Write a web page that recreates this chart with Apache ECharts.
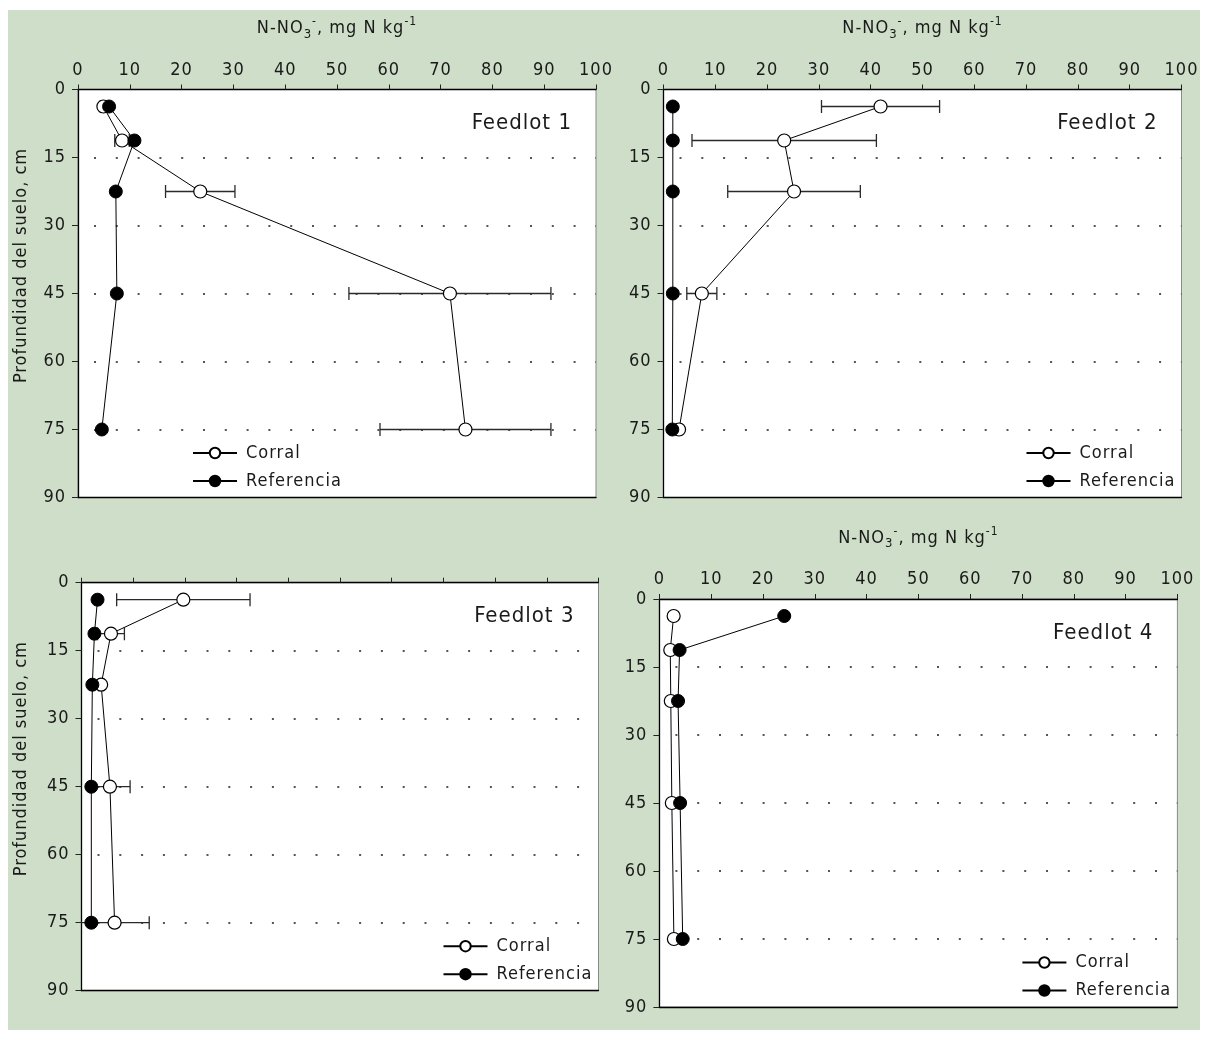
<!DOCTYPE html>
<html>
<head>
<meta charset="utf-8">
<script src="https://cdn.jsdelivr.net/npm/echarts@6/dist/echarts.min.js"></script>
<style>
  html, body { margin: 0; padding: 0; background: #ffffff; }
  #wrap { position: relative; width: 1208px; height: 1041px; overflow: hidden; }
  #panel { position: absolute; left: 8px; top: 10px; width: 1192px; height: 1020px; background: #cfdec8; }
  #chart { position: absolute; left: 0; top: 0; width: 1208px; height: 1041px; }
</style>
</head>
<body>
<div id="wrap"><div id="panel"></div><div id="chart"></div></div>
<script>
// Soil depth (cm) at the centre of each sampled layer
const depths = [3.75, 11.25, 22.5, 45, 75];
// Tick values of both axes
const depthTicks = [0, 15, 30, 45, 60, 75, 90];
const concTicks = [0, 10, 20, 30, 40, 50, 60, 70, 80, 90, 100];
const seriesNames = ['Corral', 'Referencia'];
const panelNames = ['Feedlot 1', 'Feedlot 2', 'Feedlot 3', 'Feedlot 4'];

// N-NO3- (mg N kg-1) per depth, corral mean with its error, and reference site
const corral1 = [4.9, 8.5, 23.6, 71.8, 74.8];
const corralErr1 = [0.6, 1.4, 6.7, 19.5, 16.5];
const ref1 = [6.0, 10.9, 7.3, 7.5, 4.6];

const corral2 = [41.9, 23.3, 25.2, 7.4, 3.0];
const corralErr2 = [11.4, 17.8, 12.8, 2.9, 0.5];
const ref2 = [1.8, 1.8, 1.8, 1.8, 1.7];

const corral3 = [19.7, 5.7, 3.8, 5.5, 6.4];
const corralErr3 = [12.9, 2.6, 0.5, 3.9, 6.7];
const ref3 = [3.1, 2.5, 2.1, 1.9, 1.9];

const corral4 = [2.75, 2.1, 2.2, 2.4, 2.8];
const corralErr4 = [0, 0, 0, 0, 0];
const ref4 = [24.1, 3.9, 3.6, 4.0, 4.5];

const corralData = [corral1, corral2, corral3, corral4];
const corralErrData = [corralErr1, corralErr2, corralErr3, corralErr4];
const refData = [ref1, ref2, ref3, ref4];

// Plot boxes (pixels) and which decorations each panel carries
const boxes = [
  { left: 78,    top: 89.5,  width: 518, height: 408, topLabels: true,  depthTitle: true,  legendSide: 'left'  },
  { left: 663.5, top: 89.5,  width: 518, height: 408, topLabels: true,  depthTitle: false, legendSide: 'right' },
  { left: 81.5,  top: 582.7, width: 517, height: 408, topLabels: false, depthTitle: true,  legendSide: 'right' },
  { left: 659.4, top: 599,   width: 518, height: 408, topLabels: true,  depthTitle: false, legendSide: 'right' }
];

const FONT = "'Liberation Sans Narrow','Arial Narrow','DejaVu Sans Condensed',sans-serif";
const INK = '#1a1a1a';

// Tracked (letter-spaced) typography for all canvas text
(function () {
  const proto = CanvasRenderingContext2D.prototype;
  if (!('letterSpacing' in proto)) return;
  const fill = proto.fillText, measure = proto.measureText;
  proto.fillText = function () { this.letterSpacing = '1px'; return fill.apply(this, arguments); };
  proto.measureText = function () { this.letterSpacing = '1px'; return measure.apply(this, arguments); };
})();

const chart = echarts.init(document.getElementById('chart'), null, { renderer: 'canvas' });

const grids = [], xAxes = [], yAxes = [], series = [], legends = [], graphics = [];

boxes.forEach((b, i) => {
  grids.push({
    left: b.left, top: b.top, width: b.width, height: b.height,
    show: true, backgroundColor: '#ffffff', borderColor: '#8a8a8a', borderWidth: 1
  });
  // top concentration axis
  xAxes.push({
    type: 'value', gridIndex: i, position: 'top',
    min: concTicks[0], max: concTicks[concTicks.length - 1], interval: concTicks[1] - concTicks[0],
    axisLine: { show: true, onZero: false, lineStyle: { color: '#000', width: 1.3 } },
    axisTick: { show: true, inside: false, length: 5, lineStyle: { color: '#222', width: 1 } },
    axisLabel: { show: b.topLabels, margin: 10, fontSize: 18, fontFamily: FONT, color: INK },
    splitLine: { show: false },
    name: b.topLabels ? 'N-NO{sub|3}{sup|-}, mg N kg{sup|-1}' : '',
    nameLocation: 'middle', nameGap: 48,
    nameTextStyle: {
      fontSize: 18, fontFamily: FONT, color: INK,
      rich: {
        sub: { fontSize: 13, fontFamily: FONT, color: INK, verticalAlign: 'bottom', padding: [12, 0, 0, 0] },
        sup: { fontSize: 12, fontFamily: FONT, color: INK, verticalAlign: 'top', padding: [0, 0, 10, 0] }
      }
    }
  });
  // bottom frame line of the plot box
  xAxes.push({
    type: 'value', gridIndex: i, position: 'bottom',
    min: concTicks[0], max: concTicks[concTicks.length - 1],
    axisLine: { show: true, onZero: false, lineStyle: { color: '#000', width: 1.3 } },
    axisTick: { show: false }, axisLabel: { show: false }, splitLine: { show: false }
  });
  yAxes.push({
    type: 'value', gridIndex: i, inverse: true,
    min: depthTicks[0], max: depthTicks[depthTicks.length - 1], interval: depthTicks[1] - depthTicks[0],
    axisLine: { show: true, onZero: false, lineStyle: { color: '#000', width: 1.3 } },
    axisTick: { show: true, inside: false, length: 6, lineStyle: { color: '#222', width: 1 } },
    axisLabel: { margin: 12, fontSize: 18, fontFamily: FONT, color: INK },
    splitLine: {
      show: true, showMinLine: false, showMaxLine: false,
      lineStyle: { color: '#555', width: 2, type: [2, 19.8], dashOffset: 5.8, cap: 'butt' }
    }
  });

  const xTop = 2 * i;
  const cData = corralData[i], eData = corralErrData[i], rData = refData[i];

  // horizontal error bars on the corral means, clipped to the plot box
  const errRows = [];
  depths.forEach((d, k) => { if (eData[k] > 0) errRows.push([cData[k] - eData[k], cData[k] + eData[k], d]); });
  series.push({
    type: 'custom', xAxisIndex: xTop, yAxisIndex: i, z: 1, silent: true, clip: true,
    data: errRows,
    encode: { x: [0, 1], y: 2 },
    renderItem: function (params, api) {
      const y = api.value(2);
      const a = api.coord([api.value(0), y]);
      const c = api.coord([api.value(1), y]);
      const h = 6.5;
      const st = { stroke: '#2a2a2a', lineWidth: 1.3 };
      return {
        type: 'group',
        children: [
          { type: 'line', shape: { x1: a[0], y1: a[1], x2: c[0], y2: c[1] }, style: st },
          { type: 'line', shape: { x1: a[0], y1: a[1] - h, x2: a[0], y2: a[1] + h }, style: st },
          { type: 'line', shape: { x1: c[0], y1: c[1] - h, x2: c[0], y2: c[1] + h }, style: st }
        ]
      };
    }
  });

  series.push({
    name: seriesNames[0], type: 'line', xAxisIndex: xTop, yAxisIndex: i, z: 2,
    data: depths.map((d, k) => [cData[k], d]),
    symbol: 'circle', symbolSize: 13, showAllSymbol: true,
    lineStyle: { color: '#000', width: 1 },
    itemStyle: { color: '#ffffff', borderColor: '#000', borderWidth: 1.2 },
    emphasis: { disabled: true }, animation: false
  });
  series.push({
    name: seriesNames[1], type: 'line', xAxisIndex: xTop, yAxisIndex: i, z: 3,
    data: depths.map((d, k) => [rData[k], d]),
    symbol: 'circle', symbolSize: 13, showAllSymbol: true,
    lineStyle: { color: '#000', width: 1 },
    itemStyle: { color: '#000', borderColor: '#000', borderWidth: 1 },
    emphasis: { disabled: true }, animation: false
  });

  const bottom = b.top + b.height;
  legends.push({
    data: seriesNames, orient: 'vertical', selectedMode: false,
    left: b.legendSide === 'left' ? b.left + 114 : b.left + b.width - 156,
    top: bottom - 54,
    itemWidth: 44, itemHeight: 13, itemGap: 9, padding: 0,
    textStyle: { fontSize: 18, fontFamily: FONT, color: INK, padding: [0, 0, 0, 4] }
  });

  graphics.push({
    type: 'text', z: 50,
    x: b.left + b.width - 24, y: b.top + 34,
    style: { text: panelNames[i], font: '22px ' + FONT, fill: INK, align: 'right', verticalAlign: 'middle' }
  });
  if (b.depthTitle) {
    graphics.push({
      type: 'text', z: 50,
      x: 21, y: b.top + b.height / 2 - 28, rotation: Math.PI / 2,
      style: { text: 'Profundidad del suelo, cm', font: '18px ' + FONT, fill: INK, align: 'center', verticalAlign: 'middle' }
    });
  }
});

chart.setOption({
  backgroundColor: 'transparent',
  animation: false,
  grid: grids,
  xAxis: xAxes,
  yAxis: yAxes,
  legend: legends,
  series: series,
  graphic: graphics
});
</script>
</body>
</html>
